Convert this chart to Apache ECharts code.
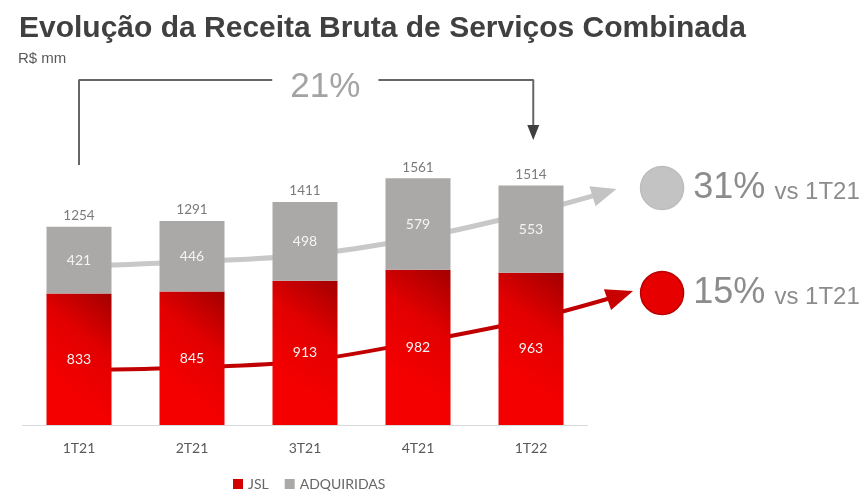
<!DOCTYPE html>
<html>
<head>
<meta charset="utf-8">
<title>Receita Bruta de Serviços Combinada</title>
<script src="https://cdn.jsdelivr.net/npm/echarts@6/dist/echarts.min.js"></script>
<style>
  html, body { margin: 0; padding: 0; background: #fff; }
  #container { width: 867px; height: 491px; }
</style>
</head>
<body>
<div id="container"></div>
<script>
var categories = ['1T21', '2T21', '3T21', '4T21', '1T22'];
var jsl = [833, 845, 913, 982, 963];
var adquiridas = [421, 446, 498, 579, 553];
var totals = [1254, 1291, 1411, 1561, 1514];

// trend arrows, x in category index units
var grayTrend = [[0, 1006], [1, 1034], [2, 1076], [3, 1184], [4, 1345], [4.65, 1471]];
var redTrend = [[0, 348], [1, 364], [2, 405], [3, 525], [4, 668], [4.79, 821]];

// bracket over the bars (21% growth)
var bracketLeft = [[0, 1646], [0, 2184], [1.71, 2184]];
var bracketRight = [[2.65, 2184], [4.02, 2184], [4.02, 1851]];
var bracketText = [[2.18, 2139, '21%']];

// growth badges on the right
var badges = [
    [5.16, 1500, '31%', 'vs 1T21', '#c3c3c3', '#bdbdbd'],
    [5.16, 835, '15%', 'vs 1T21', '#e60000', '#b80000']
];

var dom = document.getElementById('container');
var myChart = echarts.init(dom);

function arrowEnd(points, rot, size, color) {
    var data = points.map(function (p) { return { value: p, symbol: 'none' }; });
    data[data.length - 1] = {
        value: points[points.length - 1],
        symbol: 'triangle',
        symbolSize: size,
        symbolRotate: rot,
        itemStyle: { color: color, opacity: 1 }
    };
    return data;
}

var redGrad = new echarts.graphic.LinearGradient(0, 0.6, 1, 0, [
    { offset: 0, color: '#f40000' },
    { offset: 0.5, color: '#e20000' },
    { offset: 1, color: '#a20000' }
]);

var labelFont = 'Lato, "Open Sans", sans-serif';
var sansFont = '"Liberation Sans", Arial, sans-serif';

option = {
    animation: false,
    title: [{
        left: 14,
        top: 9,
        text: 'Evolução da Receita Bruta de Serviços Combinada',
        textStyle: {
            fontFamily: sansFont,
            fontWeight: 'bold',
            fontSize: 30,
            color: '#404040'
        }
    }, {
        left: 13,
        top: 46,
        text: 'R$ mm',
        textStyle: {
            fontFamily: sansFont,
            fontWeight: 'normal',
            fontSize: 15,
            color: '#595959'
        }
    }],
    legend: {
        left: 233,
        top: 477,
        padding: 0,
        icon: 'rect',
        itemWidth: 10,
        itemHeight: 10,
        itemGap: 16,
        textStyle: { fontFamily: labelFont, fontSize: 14, color: '#666666' },
        data: [
            { name: 'JSL', itemStyle: { color: '#d40000' } },
            { name: 'ADQUIRIDAS' }
        ]
    },
    grid: [{
        left: 22.5,
        right: 279.5,
        top: 109,
        bottom: 66
    }, {
        // same scale as the bar grid, wider so the annotations fit
        left: 22.5,
        right: 8.3,
        top: 0,
        bottom: 66
    }],
    xAxis: [{
        type: 'category',
        gridIndex: 0,
        data: categories,
        axisTick: { show: false },
        axisLine: { lineStyle: { color: '#d9d9d9', width: 1 } },
        axisLabel: { margin: 16, fontFamily: labelFont, fontSize: 14, color: '#595959' }
    }, {
        type: 'value',
        gridIndex: 1,
        min: -0.5,
        max: 6.9,
        show: false
    }],
    yAxis: [{
        type: 'value',
        gridIndex: 0,
        min: 0,
        max: 2000,
        show: false,
        splitLine: { show: false }
    }, {
        type: 'value',
        gridIndex: 1,
        min: 0,
        max: 2690,
        show: false,
        splitLine: { show: false }
    }],
    series: [
        {
            name: 'grayTrend',
            type: 'line',
            xAxisIndex: 1,
            yAxisIndex: 1,
            smooth: 0.35,
            z: 1,
            lineStyle: { color: '#c8c8c8', width: 5 },
            itemStyle: { color: '#c8c8c8' },
            data: arrowEnd(grayTrend, -73, [21, 25], '#c3c3c3')
        },
        {
            name: 'redTrend',
            type: 'line',
            xAxisIndex: 1,
            yAxisIndex: 1,
            smooth: 0.35,
            z: 1,
            lineStyle: { color: '#c00000', width: 4 },
            itemStyle: { color: '#c40000' },
            data: arrowEnd(redTrend, -71, [22, 27], '#c80000')
        },
        {
            name: 'JSL',
            type: 'bar',
            stack: 'total',
            barWidth: 65,
            z: 3,
            itemStyle: { color: redGrad },
            label: {
                show: true,
                position: 'inside',
                fontFamily: labelFont,
                fontSize: 14,
                color: '#f4f4f4'
            },
            data: jsl
        },
        {
            name: 'ADQUIRIDAS',
            type: 'bar',
            stack: 'total',
            barWidth: 65,
            z: 3,
            itemStyle: { color: '#aba9a7' },
            label: {
                show: true,
                position: 'inside',
                fontFamily: labelFont,
                fontSize: 14,
                color: '#f4f4f4'
            },
            data: adquiridas
        },
        {
            name: 'Total',
            type: 'scatter',
            symbolSize: 0,
            z: 4,
            label: {
                show: true,
                position: 'top',
                distance: 4,
                fontFamily: labelFont,
                fontSize: 13.5,
                color: '#595959'
            },
            data: totals
        },
        {
            name: 'bracketLeft',
            type: 'line',
            xAxisIndex: 1,
            yAxisIndex: 1,
            symbol: 'none',
            lineStyle: { color: '#666666', width: 2 },
            data: bracketLeft
        },
        {
            name: 'bracketRight',
            type: 'line',
            xAxisIndex: 1,
            yAxisIndex: 1,
            lineStyle: { color: '#666666', width: 2 },
            data: arrowEnd(bracketRight, 180, [12, 15], '#404040')
        },
        {
            name: 'bracketText',
            type: 'scatter',
            xAxisIndex: 1,
            yAxisIndex: 1,
            symbolSize: 0,
            label: {
                show: true,
                position: 'inside',
                formatter: function (p) { return p.value[2]; },
                fontFamily: sansFont,
                fontSize: 35,
                color: '#8c8c8c'
            },
            data: bracketText
        },
        {
            name: 'badges',
            type: 'scatter',
            xAxisIndex: 1,
            yAxisIndex: 1,
            symbolSize: 43,
            data: badges.map(function (b) {
                return {
                    value: [b[0], b[1]],
                    itemStyle: { color: b[4], opacity: 1, borderColor: b[5], borderWidth: 1.5 },
                    label: {
                        show: true,
                        position: 'right',
                        distance: 9,
                        formatter: '{p|' + b[2] + '}{v|' + b[3] + '}',
                        rich: {
                            p: { fontFamily: sansFont, fontSize: 36, color: '#8c8c8c' },
                            v: { fontFamily: sansFont, fontSize: 24, color: '#8c8c8c', padding: [8, 0, 0, 9] }
                        }
                    }
                };
            })
        }
    ]
};

if (option && typeof option === 'object') {
    myChart.setOption(option, true);
}
</script>
</body>
</html>
